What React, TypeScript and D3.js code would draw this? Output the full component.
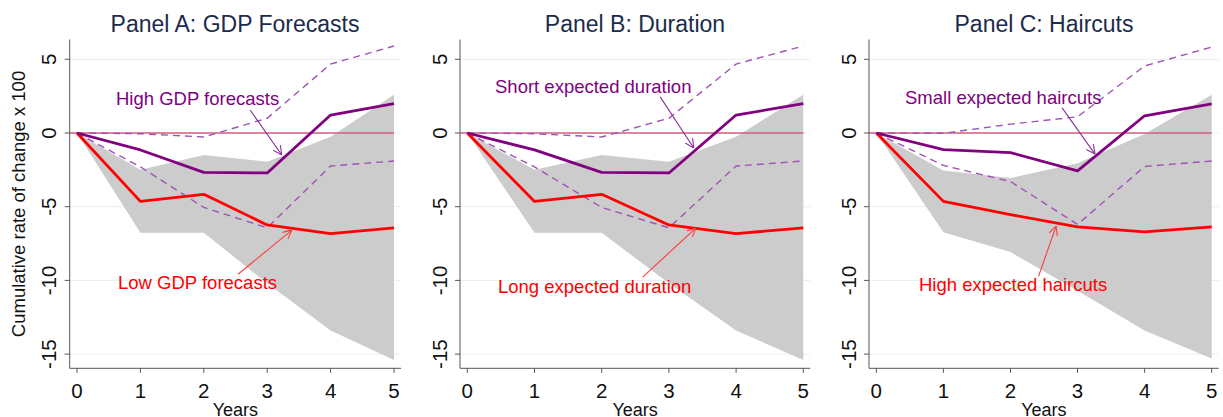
import React from 'react';
import * as d3 from 'd3';

// --- data ---
const years = [0, 1, 2, 3, 4, 5];

// panels A and B share the same estimates
const highAB = [0, -1.15, -2.67, -2.71, 1.22, 1.99];
const lowAB = [0, -4.64, -4.16, -6.24, -6.83, -6.43];
const dashUpAB = [0, -0.05, -0.27, 1.0, 4.68, 5.9];
const dashLoAB = [0, -2.3, -5.05, -6.43, -2.24, -1.9];
const bandUpAB = [0, -2.5, -1.5, -1.95, -0.25, 2.6];
const bandLoAB = [0, -6.77, -6.77, -10.2, -13.4, -15.4];

const highC = [0, -1.13, -1.33, -2.57, 1.17, 1.98];
const lowC = [0, -4.64, -5.54, -6.37, -6.71, -6.37];
const dashUpC = [0, -0.02, 0.6, 1.1, 4.55, 5.83];
const dashLoC = [0, -2.2, -3.29, -6.2, -2.27, -1.9];
const bandUpC = [0, -2.55, -3.06, -2.05, -0.07, 2.6];
const bandLoC = [0, -6.73, -8.08, -10.7, -13.4, -15.3];

const yTicks = [5, 0, -5, -10, -15];
const titles = ['Panel A: GDP Forecasts', 'Panel B: Duration', 'Panel C: Haircuts'];
const highLabels = ['High GDP forecasts', 'Short expected duration', 'Small expected haircuts'];
const lowLabels = ['Low GDP forecasts', 'Long expected duration', 'High expected haircuts'];

const series = [
    { high: highAB, low: lowAB, dUp: dashUpAB, dLo: dashLoAB, bUp: bandUpAB, bLo: bandLoAB },
    { high: highAB, low: lowAB, dUp: dashUpAB, dLo: dashLoAB, bUp: bandUpAB, bLo: bandLoAB },
    { high: highC, low: lowC, dUp: dashUpC, dLo: dashLoC, bUp: bandUpC, bLo: bandLoC },
];

// --- layout ---
const W = 1223, H = 417;
const FONT = "'Liberation Sans', Arial, Helvetica, sans-serif";
const PURPLE = '#800080';
const DASH = '#a052b8';
const RED = '#ff0000';

const panels = [
    { axisX: 69.7, right: 401, titleX: 235 },
    { axisX: 460, right: 810.3, titleX: 635 },
    { axisX: 869, right: 1218.7, titleX: 1044 },
];

// label anchors (px start, baseline) and arrows in data units
const notes = [
    { hi: [116, 104.7], lo: [118, 289.3], hiArrow: [[2.73, 1.56], [3.23, -1.49]], loArrow: [[2.54, -9.58], [3.39, -6.59]] },
    { hi: [495, 92.7], lo: [498, 292.7], hiArrow: [[2.87, 2.45], [3.37, -1.02]], loArrow: [[2.61, -9.78], [3.40, -6.45]] },
    { hi: [905, 104.3], lo: [919, 291], hiArrow: [[2.77, 1.70], [3.26, -1.43]], loArrow: [[2.42, -9.71], [2.68, -6.32]] },
];

const yScale = d3.scaleLinear().domain([-15, 5]).range([354.1, 59.3]);
const axisTop = 39.5, axisBottom = 368.3;

const Panel: React.FC<{ i: number }> = ({ i }) => {
    const p = panels[i];
    const s = series[i];
    const n = notes[i];
    const x = d3.scaleLinear().domain([0, 5]).range([p.axisX + 7.3, p.right - 7]);
    const line = d3.line<number>().x((_, k) => x(years[k])).y(d => yScale(d));
    const area = d3.area<number>()
        .x((_, k) => x(years[k]))
        .y0((_, k) => yScale(s.bLo[k]))
        .y1(d => yScale(d));

    const arrow = (a: number[][], color: string, id: string) => (
        <line x1={x(a[0][0])} y1={yScale(a[0][1])} x2={x(a[1][0])} y2={yScale(a[1][1])}
            stroke={color} strokeWidth={1.1} markerEnd={`url(#${id})`} />
    );

    return (
        <g>
            <text x={p.titleX} y={32} textAnchor="middle" fontSize={23} fill="#1c2b4b">{titles[i]}</text>
            {yTicks.map(t => (
                <line key={'g' + t} x1={p.axisX} x2={p.right} y1={yScale(t)} y2={yScale(t)} stroke="#e6eff1" strokeWidth={1} />
            ))}
            <path d={area(s.bUp) || ''} fill="#cccccc" />
            <line x1={p.axisX} x2={p.right - 7} y1={yScale(0)} y2={yScale(0)} stroke="#d2607e" strokeWidth={1.3} />
            <path d={line(s.dUp) || ''} fill="none" stroke={DASH} strokeWidth={1.4} strokeDasharray="7,5" />
            <path d={line(s.dLo) || ''} fill="none" stroke={DASH} strokeWidth={1.4} strokeDasharray="7,5" />
            <path d={line(s.low) || ''} fill="none" stroke={RED} strokeWidth={2.8} strokeLinejoin="round" />
            <path d={line(s.high) || ''} fill="none" stroke={PURPLE} strokeWidth={2.8} strokeLinejoin="round" />
            {arrow(n.hiArrow, '#8a2f9a', 'ahP')}
            {arrow(n.loArrow, '#ff3b3b', 'ahR')}
            <text x={n.hi[0]} y={n.hi[1]} fontSize={18.5} fill={PURPLE}>{highLabels[i]}</text>
            <text x={n.lo[0]} y={n.lo[1]} fontSize={18.5} fill={RED}>{lowLabels[i]}</text>

            {/* axes */}
            <line x1={p.axisX} x2={p.axisX} y1={axisTop} y2={axisBottom} stroke="#555" strokeWidth={1} />
            <line x1={p.axisX} x2={p.right} y1={axisBottom} y2={axisBottom} stroke="#555" strokeWidth={1} />
            {yTicks.map(t => (
                <g key={'t' + t}>
                    <line x1={p.axisX - 5} x2={p.axisX} y1={yScale(t)} y2={yScale(t)} stroke="#555" />
                    <text transform={`translate(${p.axisX - 13.5},${yScale(t)}) rotate(-90)`} textAnchor="middle"
                        fontSize={20.5} fill="#111">{String(t)}</text>
                </g>
            ))}
            {years.map(v => (
                <g key={'x' + v}>
                    <line x1={x(v)} x2={x(v)} y1={axisBottom} y2={axisBottom + 4.5} stroke="#555" />
                    <text x={x(v)} y={398} textAnchor="middle" fontSize={20.5} fill="#111">{v}</text>
                </g>
            ))}
            <text x={(p.axisX + p.right) / 2} y={416} textAnchor="middle" fontSize={18} fill="#111">Years</text>
        </g>
    );
};

export default function App() {
    return (
        <svg width={W} height={H} style={{ position: 'absolute', left: 0, top: 0, background: '#fff' }} fontFamily={FONT}>
            <defs>
                <marker id="ahP" viewBox="0 0 10 10" refX={10} refY={5} markerWidth={9} markerHeight={9} orient="auto" markerUnits="userSpaceOnUse">
                    <path d="M0,0 L10,5 L0,10" fill="none" stroke="#8a2f9a" strokeWidth={1.2} />
                </marker>
                <marker id="ahR" viewBox="0 0 10 10" refX={10} refY={5} markerWidth={9} markerHeight={9} orient="auto" markerUnits="userSpaceOnUse">
                    <path d="M0,0 L10,5 L0,10" fill="none" stroke="#ff3b3b" strokeWidth={1.2} />
                </marker>
            </defs>
            <rect width={W} height={H} fill="#fff" />
            {[0, 1, 2].map(i => <Panel key={i} i={i} />)}
            <text transform="translate(24.5,204) rotate(-90)" textAnchor="middle" fontSize={18.5} fill="#111">
                Cumulative rate of change x 100
            </text>
        </svg>
    );
}
